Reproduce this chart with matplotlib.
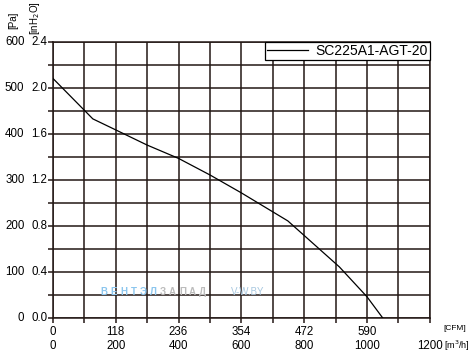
import matplotlib
matplotlib.use('Agg')
import matplotlib.pyplot as plt

plt.rcParams['font.family'] = ['Liberation Sans', 'DejaVu Sans']

# curve data (m3/h, Pa)
flow = [0, 127, 200, 300, 400, 500, 600, 748, 912, 1000, 1050]
pressure = [521, 433, 409, 376, 347, 311, 272, 211, 111, 46, 0]

pa_ticks = [0, 100, 200, 300, 400, 500, 600]
inh2o_labels = ['0.0', '0.4', '0.8', '1.2', '1.6', '2.0', '2.4']
m3h_ticks = [0, 200, 400, 600, 800, 1000, 1200]
cfm_labels = ['0', '118', '236', '354', '472', '590', '']

grid_col = '#231815'

fig = plt.figure(figsize=(4.77, 3.54), dpi=100)
ax = fig.add_axes([0.111, 0.102, 0.79, 0.779])

ax.plot(flow, pressure, color='black', lw=0.9, label='SC225A1-AGT-20', zorder=3)

ax.set_xlim(0, 1200)
ax.set_ylim(0, 600)
ax.set_xticks(range(0, 1201, 100))
ax.set_yticks(range(0, 601, 50))
ax.grid(True, color=grid_col, lw=1.1)
ax.tick_params(axis='both', length=3.5, width=1.1, color=grid_col, labelbottom=False, labelleft=False)
for s in ax.spines.values():
    s.set_color(grid_col)
    s.set_linewidth(1.1)

# y tick labels (two columns)
for pa, ih in zip(pa_ticks, inh2o_labels):
    ax.annotate(str(pa), (0, pa), xycoords=('axes fraction', 'data'), xytext=(-20.5, 0),
                textcoords='offset points', ha='right', va='center', fontsize=8.3)
    ax.annotate(ih, (0, pa), xycoords=('axes fraction', 'data'), xytext=(-4, 0),
                textcoords='offset points', ha='right', va='center', fontsize=8.3)

# x tick labels (two rows)
for m, c in zip(m3h_ticks, cfm_labels):
    ax.annotate(c, (m, 0), xycoords=('data', 'axes fraction'), xytext=(0, -10),
                textcoords='offset points', ha='center', va='center', fontsize=8.3)
    ax.annotate(str(m), (m, 0), xycoords=('data', 'axes fraction'), xytext=(0, -20.5),
                textcoords='offset points', ha='center', va='center', fontsize=8.3)

fig.text(455 / 477, 1 - 328 / 354, '[CFM]', ha='center', va='center', fontsize=6)
fig.text(457 / 477, 1 - 346 / 354, '[m$^3$/h]', ha='center', va='center', fontsize=6.5)
fig.text(13 / 477, 1 - 20 / 354, '[Pa]', rotation=90, ha='center', va='center', fontsize=7)
fig.text(35 / 477, 1 - 18 / 354, '[inH$_2$O]', rotation=90, ha='center', va='center', fontsize=7)

# watermark, letter-spaced
for i, ch in enumerate('ВЕНТЭЛЗАПАД'):
    col = '#8cc6ee' if i < 6 else '#bcbcbc'
    fig.text((104 + i * 9.8) / 477, 1 - 292 / 354, ch, color=col, fontsize=7,
             fontweight='bold', ha='center', va='center')
fig.text(231 / 477, 1 - 292 / 354, 'V-W.BY', color='#a8c8e0', fontsize=7,
         ha='left', va='center')

leg = ax.legend(loc='upper right', borderaxespad=0, fancybox=False, framealpha=1,
                edgecolor='black', fontsize=10, handlelength=3.0, handletextpad=0.5,
                borderpad=0.15)
leg.get_frame().set_linewidth(0.9)

plt.savefig('out.png', dpi=100)
